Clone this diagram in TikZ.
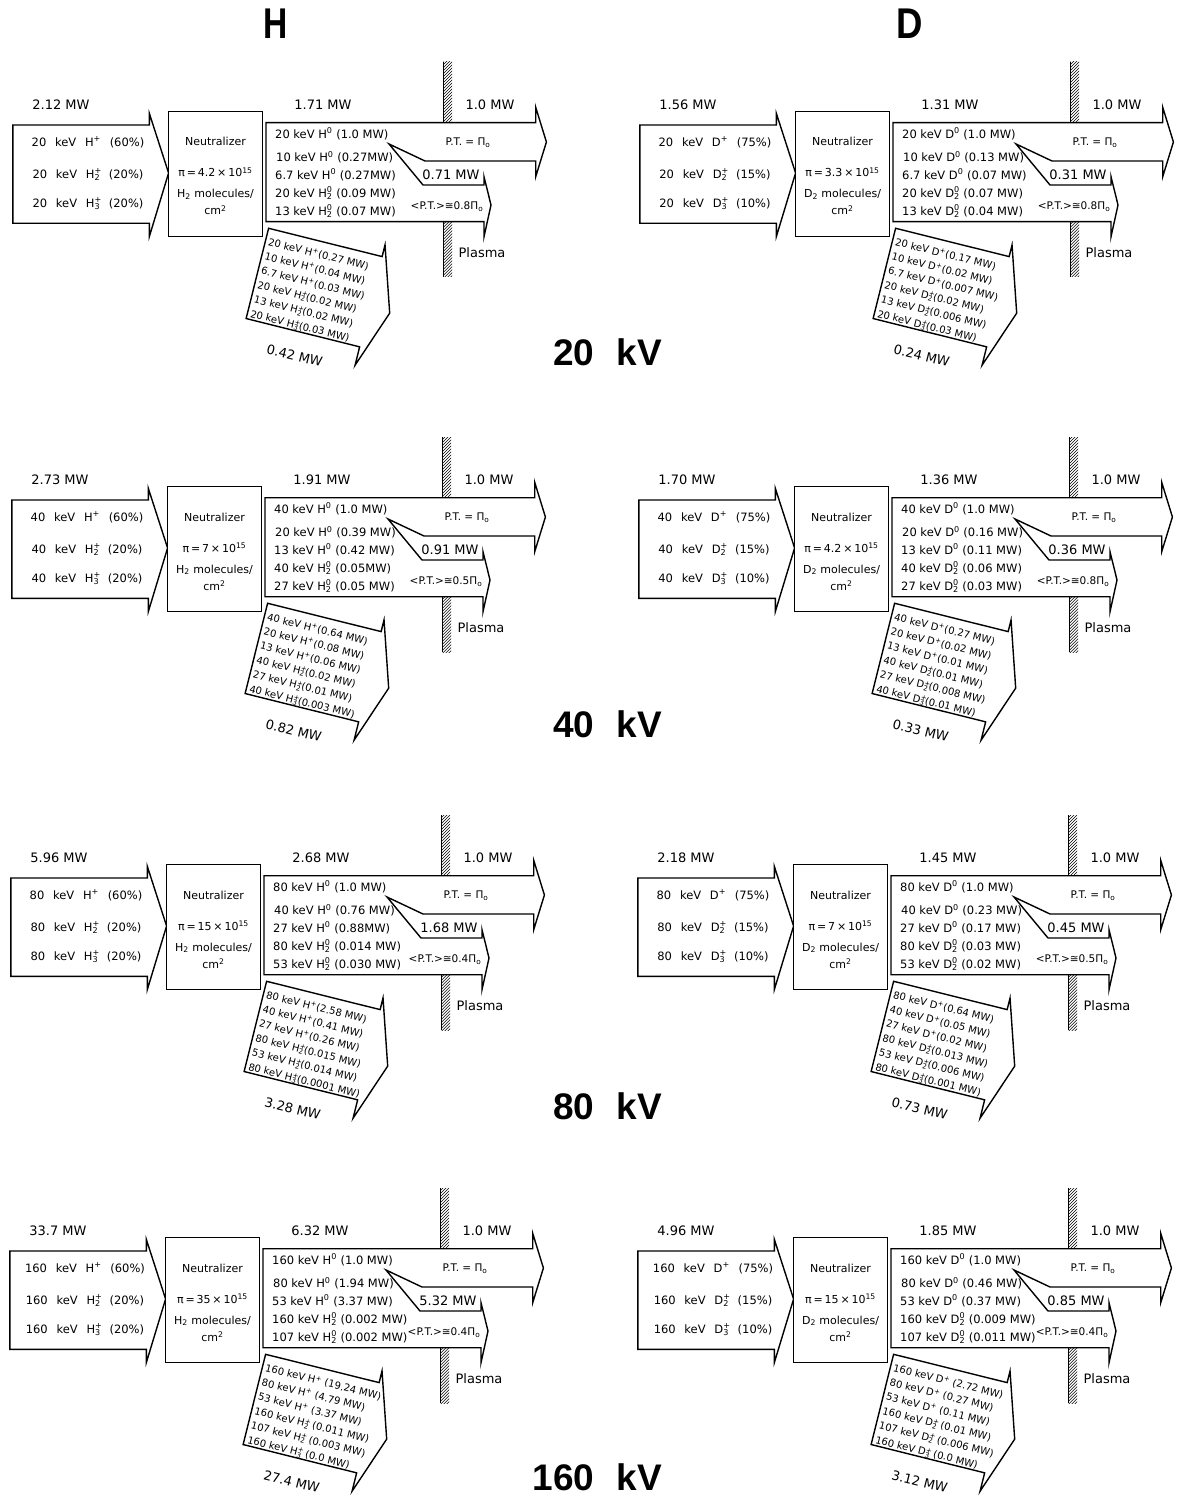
\documentclass[tikz,border=0pt]{standalone}
\usepackage{fontspec}
\setmainfont{DejaVu Sans}
\newfontfamily\widefont[WordSpace=2.4]{DejaVu Sans}
\newfontfamily\bigfont{Liberation Sans}
\newcommand\up[2]{#1\textsuperscript{#2}}
\newcommand\upd[3]{#1\rlap{\textsuperscript{#3}}\textsubscript{#2}}
\newcommand\PIo{Π\textsubscript{o}}
\tikzset{
  outl/.style={draw=black, line width=1.4pt, fill=white, line join=miter},
  lbl/.style={font=\fontsize{13}{14}\selectfont, inner sep=0pt, text height=9.5pt, text depth=0pt},
  intext/.style={font=\widefont\fontsize{11.5}{12}\selectfont, inner sep=0pt, text height=8.4pt, text depth=0pt},
  outtext/.style={font=\fontsize{11.5}{12}\selectfont, inner sep=0pt, text height=8.4pt, text depth=0pt, anchor=west},
  neuttext/.style={font=\fontsize{11}{12}\selectfont, inner sep=0pt, text height=8pt, text depth=0pt},
  rottext/.style={font=\fontsize{10}{11}\selectfont, inner sep=0pt, text height=7.3pt, text depth=0pt, anchor=west},
  pttext/.style={font=\fontsize{10.5}{11}\selectfont, inner sep=0pt, text height=7.6pt, text depth=0pt},
  bigtext/.style={font=\bigfont\bfseries\fontsize{37}{40}\selectfont, inner sep=0pt, text height=26.5pt, text depth=0pt},
  hdrtext/.style={font=\bigfont\bfseries\fontsize{43}{46}\selectfont, inner sep=0pt, text height=31pt, text depth=0pt},
  hatchline/.style={line width=0.5pt},
  wallline/.style={line width=1.3pt},
}
\newcommand\wallseg[2]{%
  \begin{scope}
    \clip (443.5,#1) rectangle (452,#2);
    \foreach \k in {0,3,...,84} {\draw[hatchline] (440,#1+\k) -- (458,#1+\k-18);}
  \end{scope}
  \draw[wallline] (443.5,#1) -- (443.5,#2);}
\newcommand\panel[3]{%
\begin{scope}[shift={(#1,#2)}]
  \wallseg{62}{122.7}\wallseg{221.7}{277}
  \draw[outl] (12.9,125) -- (149.3,125) -- (149.3,113.3) -- (168.6,173) -- (149.3,236.7) -- (149.3,223.3) -- (12.9,223.3) -- cycle;
  \draw[outl] (168.6,111.7) rectangle (262.5,236.7);
  \draw[outl] (266,122.7) -- (535.7,122.7) -- (535.7,107.3) -- (546.4,142) -- (535.7,176.7) -- (535.7,161) -- (425,161) -- (389,144) -- (423,185) -- (484,185) -- (484,176.7) -- (491,205) -- (484,236.7) -- (484,221.7) -- (266,221.7) -- cycle;
  \node[lbl] (#3-pin) at (61,105) {\pvPin};
  \node[lbl] (#3-pout) at (323,105) {\pvPout};
  \node[lbl] (#3-pp) at (490,105) {1.0 MW};
  \node[intext] (#3-i1) at (88,142) {\pvIa};
  \node[intext] (#3-i2) at (88,174) {\pvIb};
  \node[intext] (#3-i3) at (88,203) {\pvIc};
  \node[neuttext] (#3-n1) at (215.5,142) {Neutralizer};
  \node[neuttext] (#3-n2) at (215.5,173) {π\,=\,\pvNa\,×\,10\textsuperscript{15}};
  \node[neuttext] (#3-n3) at (215.5,194) {\pvNb\ molecules/};
  \node[neuttext] (#3-n4) at (215.5,211) {cm\textsuperscript{2}};
  \node[outtext] (#3-o1) at (275,134) {\pvOa};
  \node[outtext] (#3-o2) at (276,157.5) {\pvOb};
  \node[outtext] (#3-o3) at (275,175) {\pvOc};
  \node[outtext] (#3-o4) at (275,193) {\pvOd};
  \node[outtext] (#3-o5) at (275,211) {\pvOe};
  \node[pttext] (#3-pt) at (468,142) {P.T. = \PIo};
  \node[lbl] (#3-split) at (451,175) {\pvSplit};
  \node[pttext] (#3-avg) at (447,206) {<P.T.>≅\pvAvg\PIo};
  \node[lbl] (#3-plasma) at (482,253) {Plasma};
  \begin{scope}[shift={(268.6,228.3)}, rotate=-14, transform shape]
    \draw[outl] (0,0) -- (117,0) -- (117,-12) -- (138,53) -- (117,112) -- (117,93) -- (0,93) -- cycle;
    \node[rottext] (#3-r1) at (3,13) {\pvRa};
    \node[rottext] (#3-r2) at (3,27.8) {\pvRb};
    \node[rottext] (#3-r3) at (3,42.6) {\pvRc};
    \node[rottext] (#3-r4) at (3,57.4) {\pvRd};
    \node[rottext] (#3-r5) at (3,72.2) {\pvRe};
    \node[rottext] (#3-r6) at (3,87) {\pvRf};
    \node[lbl] (#3-rs) at (56,117) {\pvRsum};
  \end{scope}
\end{scope}}
\begin{document}
\begin{tikzpicture}[x=1pt,y=-1pt]
\useasboundingbox (0,0) rectangle (1176,1503);
\node[hdrtext] (hdrH) at (276,23) {\scalebox{0.78}[1]{H}};
\node[hdrtext] (hdrD) at (910,23) {\scalebox{0.85}[1]{D}};
% ---------- row 1 H
\def\pvPin{2.12 MW}\def\pvPout{1.71 MW}
\def\pvIa{20 keV \up{H}{+} (60\%)}\def\pvIb{20 keV \upd{H}{2}{+} (20\%)}\def\pvIc{20 keV \upd{H}{3}{+} (20\%)}
\def\pvNa{4.2}\def\pvNb{H\textsubscript{2}}
\def\pvOa{20 keV \up{H}{0} (1.0 MW)}\def\pvOb{10 keV \up{H}{0} (0.27MW)}\def\pvOc{6.7 keV \up{H}{0} (0.27MW)}
\def\pvOd{20 keV \upd{H}{2}{0} (0.09 MW)}\def\pvOe{13 keV \upd{H}{2}{0} (0.07 MW)}
\def\pvSplit{0.71 MW}\def\pvAvg{0.8}
\def\pvRa{20 keV \up{H}{+}(0.27 MW)}\def\pvRb{10 keV \up{H}{+}(0.04 MW)}\def\pvRc{6.7 keV \up{H}{+}(0.03 MW)}
\def\pvRd{20 keV \upd{H}{2}{+}(0.02 MW)}\def\pvRe{13 keV \upd{H}{2}{+}(0.02 MW)}\def\pvRf{20 keV \upd{H}{3}{+}(0.03 MW)}
\def\pvRsum{0.42 MW}
\panel{0}{0}{h1}
% ---------- row 1 D
\def\pvPin{1.56 MW}\def\pvPout{1.31 MW}
\def\pvIa{20 keV \up{D}{+} (75\%)}\def\pvIb{20 keV \upd{D}{2}{+} (15\%)}\def\pvIc{20 keV \upd{D}{3}{+} (10\%)}
\def\pvNa{3.3}\def\pvNb{D\textsubscript{2}}
\def\pvOa{20 keV \up{D}{0} (1.0 MW)}\def\pvOb{10 keV \up{D}{0} (0.13 MW)}\def\pvOc{6.7 keV \up{D}{0} (0.07 MW)}
\def\pvOd{20 keV \upd{D}{2}{0} (0.07 MW)}\def\pvOe{13 keV \upd{D}{2}{0} (0.04 MW)}
\def\pvSplit{0.31 MW}\def\pvAvg{0.8}
\def\pvRa{20 keV \up{D}{+}(0.17 MW)}\def\pvRb{10 keV \up{D}{+}(0.02 MW)}\def\pvRc{6.7 keV \up{D}{+}(0.007 MW)}
\def\pvRd{20 keV \upd{D}{2}{+}(0.02 MW)}\def\pvRe{13 keV \upd{D}{2}{+}(0.006 MW)}\def\pvRf{20 keV \upd{D}{3}{+}(0.03 MW)}
\def\pvRsum{0.24 MW}
\panel{627}{0}{d1}
\node[bigtext, anchor=east] (kv1) at (662,352) {20\hspace{0.6em}kV};
% ---------- row 2 H
\def\pvPin{2.73 MW}\def\pvPout{1.91 MW}
\def\pvIa{40 keV \up{H}{+} (60\%)}\def\pvIb{40 keV \upd{H}{2}{+} (20\%)}\def\pvIc{40 keV \upd{H}{3}{+} (20\%)}
\def\pvNa{7}\def\pvNb{H\textsubscript{2}}
\def\pvOa{40 keV \up{H}{0} (1.0 MW)}\def\pvOb{20 keV \up{H}{0} (0.39 MW)}\def\pvOc{13 keV \up{H}{0} (0.42 MW)}
\def\pvOd{40 keV \upd{H}{2}{0} (0.05MW)}\def\pvOe{27 keV \upd{H}{2}{0} (0.05 MW)}
\def\pvSplit{0.91 MW}\def\pvAvg{0.5}
\def\pvRa{40 keV \up{H}{+}(0.64 MW)}\def\pvRb{20 keV \up{H}{+}(0.08 MW)}\def\pvRc{13 keV \up{H}{+}(0.06 MW)}
\def\pvRd{40 keV \upd{H}{2}{+}(0.02 MW)}\def\pvRe{27 keV \upd{H}{2}{+}(0.01 MW)}\def\pvRf{40 keV \upd{H}{3}{+}(0.003 MW)}
\def\pvRsum{0.82 MW}
\panel{-1}{375}{h2}
% ---------- row 2 D
\def\pvPin{1.70 MW}\def\pvPout{1.36 MW}
\def\pvIa{40 keV \up{D}{+} (75\%)}\def\pvIb{40 keV \upd{D}{2}{+} (15\%)}\def\pvIc{40 keV \upd{D}{3}{+} (10\%)}
\def\pvNa{4.2}\def\pvNb{D\textsubscript{2}}
\def\pvOa{40 keV \up{D}{0} (1.0 MW)}\def\pvOb{20 keV \up{D}{0} (0.16 MW)}\def\pvOc{13 keV \up{D}{0} (0.11 MW)}
\def\pvOd{40 keV \upd{D}{2}{0} (0.06 MW)}\def\pvOe{27 keV \upd{D}{2}{0} (0.03 MW)}
\def\pvSplit{0.36 MW}\def\pvAvg{0.8}
\def\pvRa{40 keV \up{D}{+}(0.27 MW)}\def\pvRb{20 keV \up{D}{+}(0.02 MW)}\def\pvRc{13 keV \up{D}{+}(0.01 MW)}
\def\pvRd{40 keV \upd{D}{2}{+}(0.01 MW)}\def\pvRe{27 keV \upd{D}{2}{+}(0.008 MW)}\def\pvRf{40 keV \upd{D}{3}{+}(0.01 MW)}
\def\pvRsum{0.33 MW}
\panel{626}{375}{d2}
\node[bigtext, anchor=east] (kv2) at (662,724) {40\hspace{0.6em}kV};
% ---------- row 3 H
\def\pvPin{5.96 MW}\def\pvPout{2.68 MW}
\def\pvIa{80 keV \up{H}{+} (60\%)}\def\pvIb{80 keV \upd{H}{2}{+} (20\%)}\def\pvIc{80 keV \upd{H}{3}{+} (20\%)}
\def\pvNa{15}\def\pvNb{H\textsubscript{2}}
\def\pvOa{80 keV \up{H}{0} (1.0 MW)}\def\pvOb{40 keV \up{H}{0} (0.76 MW)}\def\pvOc{27 keV \up{H}{0} (0.88MW)}
\def\pvOd{80 keV \upd{H}{2}{0} (0.014 MW)}\def\pvOe{53 keV \upd{H}{2}{0} (0.030 MW)}
\def\pvSplit{1.68 MW}\def\pvAvg{0.4}
\def\pvRa{80 keV \up{H}{+}(2.58 MW)}\def\pvRb{40 keV \up{H}{+}(0.41 MW)}\def\pvRc{27 keV \up{H}{+}(0.26 MW)}
\def\pvRd{80 keV \upd{H}{2}{+}(0.015 MW)}\def\pvRe{53 keV \upd{H}{2}{+}(0.014 MW)}\def\pvRf{80 keV \upd{H}{3}{+}(0.0001 MW)}
\def\pvRsum{3.28 MW}
\panel{-2}{753}{h3}
% ---------- row 3 D
\def\pvPin{2.18 MW}\def\pvPout{1.45 MW}
\def\pvIa{80 keV \up{D}{+} (75\%)}\def\pvIb{80 keV \upd{D}{2}{+} (15\%)}\def\pvIc{80 keV \upd{D}{3}{+} (10\%)}
\def\pvNa{7}\def\pvNb{D\textsubscript{2}}
\def\pvOa{80 keV \up{D}{0} (1.0 MW)}\def\pvOb{40 keV \up{D}{0} (0.23 MW)}\def\pvOc{27 keV \up{D}{0} (0.17 MW)}
\def\pvOd{80 keV \upd{D}{2}{0} (0.03 MW)}\def\pvOe{53 keV \upd{D}{2}{0} (0.02 MW)}
\def\pvSplit{0.45 MW}\def\pvAvg{0.5}
\def\pvRa{80 keV \up{D}{+}(0.64 MW)}\def\pvRb{40 keV \up{D}{+}(0.05 MW)}\def\pvRc{27 keV \up{D}{+}(0.02 MW)}
\def\pvRd{80 keV \upd{D}{2}{+}(0.013 MW)}\def\pvRe{53 keV \upd{D}{2}{+}(0.006 MW)}\def\pvRf{80 keV \upd{D}{3}{+}(0.001 MW)}
\def\pvRsum{0.73 MW}
\panel{625}{753}{d3}
\node[bigtext, anchor=east] (kv3) at (662,1106) {80\hspace{0.6em}kV};
% ---------- row 4 H
\def\pvPin{33.7 MW}\def\pvPout{6.32 MW}
\def\pvIa{160 keV \up{H}{+} (60\%)}\def\pvIb{160 keV \upd{H}{2}{+} (20\%)}\def\pvIc{160 keV \upd{H}{3}{+} (20\%)}
\def\pvNa{35}\def\pvNb{H\textsubscript{2}}
\def\pvOa{160 keV \up{H}{0} (1.0 MW)}\def\pvOb{80 keV \up{H}{0} (1.94 MW)}\def\pvOc{53 keV \up{H}{0} (3.37 MW)}
\def\pvOd{160 keV \upd{H}{2}{0} (0.002 MW)}\def\pvOe{107 keV \upd{H}{2}{0} (0.002 MW)}
\def\pvSplit{5.32 MW}\def\pvAvg{0.4}
\def\pvRa{160 keV \up{H}{+} (19.24 MW)}\def\pvRb{80 keV \up{H}{+} (4.79 MW)}\def\pvRc{53 keV \up{H}{+} (3.37 MW)}
\def\pvRd{160 keV \upd{H}{2}{+} (0.011 MW)}\def\pvRe{107 keV \upd{H}{2}{+} (0.003 MW)}\def\pvRf{160 keV \upd{H}{3}{+} (0.0 MW)}
\def\pvRsum{27.4 MW}
\panel{-3}{1126}{h4}
% ---------- row 4 D
\def\pvPin{4.96 MW}\def\pvPout{1.85 MW}
\def\pvIa{160 keV \up{D}{+} (75\%)}\def\pvIb{160 keV \upd{D}{2}{+} (15\%)}\def\pvIc{160 keV \upd{D}{3}{+} (10\%)}
\def\pvNa{15}\def\pvNb{D\textsubscript{2}}
\def\pvOa{160 keV \up{D}{0} (1.0 MW)}\def\pvOb{80 keV \up{D}{0} (0.46 MW)}\def\pvOc{53 keV \up{D}{0} (0.37 MW)}
\def\pvOd{160 keV \upd{D}{2}{0} (0.009 MW)}\def\pvOe{107 keV \upd{D}{2}{0} (0.011 MW)}
\def\pvSplit{0.85 MW}\def\pvAvg{0.4}
\def\pvRa{160 keV \up{D}{+} (2.72 MW)}\def\pvRb{80 keV \up{D}{+} (0.27 MW)}\def\pvRc{53 keV \up{D}{+} (0.11 MW)}
\def\pvRd{160 keV \upd{D}{2}{+} (0.01 MW)}\def\pvRe{107 keV \upd{D}{2}{+} (0.006 MW)}\def\pvRf{160 keV \upd{D}{3}{+} (0.0 MW)}
\def\pvRsum{3.12 MW}
\panel{625}{1126}{d4}
\node[bigtext, anchor=east] (kv4) at (662,1477) {160\hspace{0.6em}kV};
\end{tikzpicture}
\end{document}
